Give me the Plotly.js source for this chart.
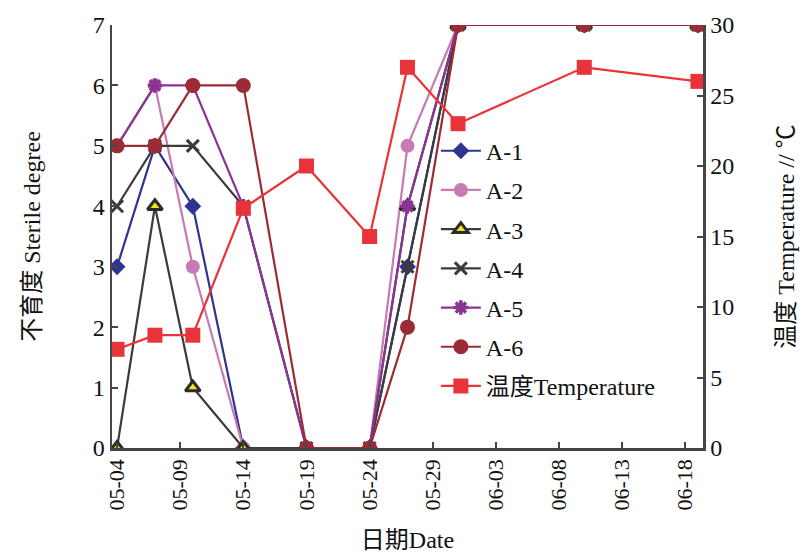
<!DOCTYPE html>
<html>
<head>
<meta charset="utf-8">
<script src="https://cdn.plot.ly/plotly-3.0.1.min.js"></script>
<style>html,body{margin:0;padding:0;background:#fff;}#chart{width:805px;height:555px;}</style>
</head>
<body>
<div id="chart"></div>
<script>
const dates = ['2020-05-04','2020-05-07','2020-05-10','2020-05-14','2020-05-19','2020-05-24','2020-05-27','2020-05-31','2020-06-10','2020-06-19'];
const seriesNames = ['A-1','A-2','A-3','A-4','A-5','A-6'];
const A1 = [3,5,4,0,0,0,3,7,7,7];
const A2 = [5,6,3,0,0,0,5,7,7,7];
const A3 = [0,4,1,0,0,0,4,7,7,7];
const A4 = [4,5,5,4,0,0,3,7,7,7];
const A5 = [5,6,6,4,0,0,4,7,7,7];
const A6 = [5,5,6,6,0,0,2,7,7,7];
const temperature = [7,8,8,17,20,15,27,23,27,26];
const tempName = '温度Temperature';
const xTitle = '日期Date';
const yTitle = '不育度 Sterile degree';
const y2Title = '温度 Temperature // ℃';

const FONT = '"Liberation Serif", "Times New Roman", "Noto Sans CJK SC", serif';
const styles = [
  {color:'#2f3490', symbol:'diamond', size:13, mcolor:'#2f3490', lw:0, lc:'#2f3490'},
  {color:'#c77ab4', symbol:'circle', size:14, mcolor:'#c77ab4', lw:0, lc:'#c77ab4'},
  {color:'#3b3b3b', symbol:'triangle-up', size:13, mcolor:'#f2e21a', lw:3, lc:'#2b2b2b'},
  {color:'#3b3b3b', symbol:'x-thin-open', size:12, mcolor:'#3b3b3b', lw:3, lc:'#3b3b3b'},
  {color:'#8a3392', symbol:'asterisk-open', size:12, mcolor:'#8a3392', lw:3.5, lc:'#8a3392'},
  {color:'#9b2c35', symbol:'circle', size:15, mcolor:'#9b2c35', lw:0, lc:'#9b2c35'}
];
const vals = [A1,A2,A3,A4,A5,A6];
const traces = vals.map((v,i)=>({
  x: dates, y: v, name: seriesNames[i], type:'scatter', mode:'lines+markers',
  legendgroup: 'g'+i,
  line:{color:styles[i].color, width:2.2},
  marker:{symbol:styles[i].symbol, size:styles[i].size, color:styles[i].mcolor,
          line:{width:styles[i].lw, color:styles[i].lc}},
  xaxis:'x', yaxis:'y'
}));
traces.push({
  x: dates, y: temperature, name: tempName, type:'scatter', mode:'lines+markers',
  legendgroup:'g7',
  line:{color:'#ec3237', width:2.2},
  marker:{symbol:'square', size:15, color:'#e8333a'},
  xaxis:'x', yaxis:'y2'
});

const axisCommon = {
  showline:true, linecolor:'#454545', linewidth:2.5,
  ticks:'inside', ticklen:6, tickwidth:2, tickcolor:'#454545',
  showgrid:false, zeroline:false,
  tickfont:{family:FONT, size:24, color:'#111'}
};

const layout = {
  width:805, height:555,
  margin:{l:112, r:102, t:25, b:107},
  paper_bgcolor:'#fff', plot_bgcolor:'#fff',
  font:{family:FONT, color:'#111'},
  showlegend:true,
  legend:{x:0.548, y:0.755, xanchor:'left', yanchor:'top', bgcolor:'rgba(0,0,0,0)',
          font:{family:FONT, size:24, color:'#111'}, traceorder:'grouped', tracegroupgap:5,
          itemwidth:40},
  xaxis: Object.assign({}, axisCommon, {
    type:'date',
    range:['2020-05-03 14:24','2020-06-19 09:36'],
    tick0:'2020-05-04', dtick:5*86400000, tickformat:'%m-%d', tickangle:-90,
    tickfont:{family:FONT, size:22, color:'#111'},
    title:{text:xTitle, font:{family:FONT, size:24, color:'#111'}, standoff:22}
  }),
  yaxis: Object.assign({}, axisCommon, {
    range:[0,7], dtick:1, tick0:0,
    title:{text:yTitle, font:{family:FONT, size:24, color:'#111'}, standoff:46}
  }),
  yaxis2: Object.assign({}, axisCommon, {
    overlaying:'y', side:'right', anchor:'x',
    range:[0,30], dtick:5, tick0:0,
    title:{text:y2Title, font:{family:FONT, size:24, color:'#111'}, standoff:44}
  })
};

Plotly.newPlot('chart', traces, layout, {displayModeBar:false, staticPlot:true});
</script>
</body>
</html>
